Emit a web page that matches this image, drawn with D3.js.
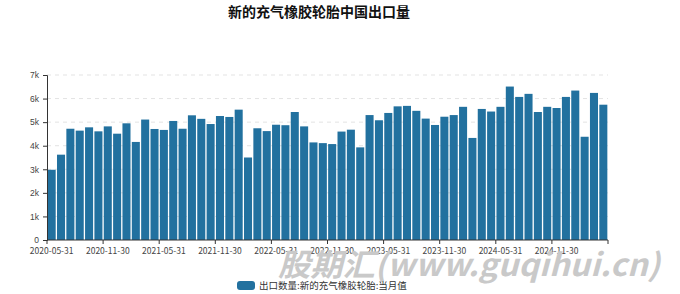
<!DOCTYPE html>
<html>
<head>
<meta charset="utf-8">
<script src="https://cdn.jsdelivr.net/npm/d3@7"></script>
<style>
  body { margin: 0; background: #fff; }
  svg { display: block; font-family: "Noto Sans CJK SC", "DejaVu Sans", sans-serif; }
</style>
</head>
<body>
<div id="vis"></div>
<script>
// monthly export volume, 2020-05 .. 2025-04
const months = []
for (let y = 2020; y <= 2025; y++) {
    for (let m = 1; m <= 12; m++) {
        if (y === 2020 && m < 5) continue
        if (y === 2025 && m > 4) continue
        const last = new Date(y, m, 0).getDate()
        months.push(`${y}-${String(m).padStart(2, '0')}-${last}`)
    }
}

const values = [
    2980, 3620, 4720, 4640, 4780, 4610, 4820, 4510, 4950, 4160,
    5110, 4710, 4670, 5050, 4720, 5290, 5140, 4920, 5260, 5220,
    5530, 3500, 4740, 4620, 4890, 4870, 5430, 4820, 4140, 4110,
    4070, 4600, 4680, 3930, 5300, 5080, 5390, 5670, 5690, 5480,
    5150, 4880, 5230, 5300, 5650, 4330, 5560, 5450, 5650, 6510,
    6070, 6200, 5430, 5650, 5600, 6070, 6340, 4380, 6240, 5740
]

const yTicks = [0, 1000, 2000, 3000, 4000, 5000, 6000, 7000]
const title = '新的充气橡胶轮胎中国出口量'
const seriesName = '出口数量:新的充气橡胶轮胎:当月值'
const watermark = '股期汇(www.guqihui.cn)'
const barColor = '#22719f'

const W = 680, H = 294
const margin = {left: 47, right: 72, top: 75, bottom: 54}

const svg = d3.select('#vis').append('svg')
    .attr('width', W)
    .attr('height', H)

const x = d3.scaleBand()
    .domain(months)
    .range([margin.left, W - margin.right])
    .paddingInner(0.14)
    .paddingOuter(0.07)

const y = d3.scaleLinear()
    .domain([0, 7000])
    .range([H - margin.bottom, margin.top])

// grid
svg.append('g')
    .selectAll('line')
    .data(yTicks.slice(1))
    .enter()
    .append('line')
        .attr('x1', margin.left)
        .attr('x2', W - margin.right)
        .attr('y1', d => y(d))
        .attr('y2', d => y(d))
        .attr('stroke', '#e3e3e3')
        .attr('stroke-dasharray', '4,4')

// bars
svg.append('g')
    .selectAll('rect')
    .data(values)
    .enter()
    .append('rect')
        .attr('x', (d, i) => x(months[i]))
        .attr('y', d => y(d))
        .attr('width', x.bandwidth())
        .attr('height', d => y(0) - y(d))
        .attr('fill', barColor)

// y axis
const yAxis = svg.append('g')
    .attr('transform', `translate(${margin.left},0)`)
    .call(d3.axisLeft(y).tickValues(yTicks).tickSize(4).tickPadding(4)
        .tickFormat(d => d === 0 ? '0' : (d / 1000) + 'k'))
yAxis.selectAll('text').attr('font-size', 8.5).attr('fill', '#444')
yAxis.selectAll('line, path').attr('stroke', '#333')

// x axis: ticks at band boundaries, labels at band centers every 6
const step = x.step()
const x0 = x.range()[0]
const xAxis = svg.append('g')
    .attr('transform', `translate(0,${y(0)})`)
xAxis.append('line')
    .attr('x1', margin.left).attr('x2', W - margin.right)
    .attr('stroke', '#333')
const labelIdx = d3.range(0, months.length, 6)
xAxis.selectAll('.tick')
    .data(labelIdx.concat([months.length]))
    .enter()
    .append('line')
        .attr('x1', i => x0 + i * step)
        .attr('x2', i => x0 + i * step)
        .attr('y2', 4)
        .attr('stroke', '#333')
xAxis.selectAll('text')
    .data(labelIdx)
    .enter()
    .append('text')
        .attr('x', i => x0 + i * step + step / 2)
        .attr('y', 14)
        .attr('text-anchor', 'middle')
        .attr('font-size', 8.5)
        .attr('fill', '#444')
        .text(i => months[i])

// title
svg.append('text')
    .attr('x', 319)
    .attr('y', 17)
    .attr('text-anchor', 'middle')
    .attr('font-size', 14)
    .attr('font-weight', 'bold')
    .attr('fill', '#111')
    .text(title)

// watermark
svg.append('text')
    .attr('x', 278)
    .attr('y', 276)
    .attr('font-size', 31)
    .attr('font-weight', 'bold')
    .attr('font-style', 'italic')
    .attr('fill', '#c9c9c9')
    .attr('textLength', 382)
    .attr('lengthAdjust', 'spacingAndGlyphs')
    .text(watermark)

// legend
svg.append('rect')
    .attr('x', 237).attr('y', 281)
    .attr('width', 18).attr('height', 9)
    .attr('rx', 3)
    .attr('fill', barColor)
svg.append('text')
    .attr('x', 259).attr('y', 289)
    .attr('font-size', 9.5)
    .attr('fill', '#333')
    .text(seriesName)
</script>
</body>
</html>
